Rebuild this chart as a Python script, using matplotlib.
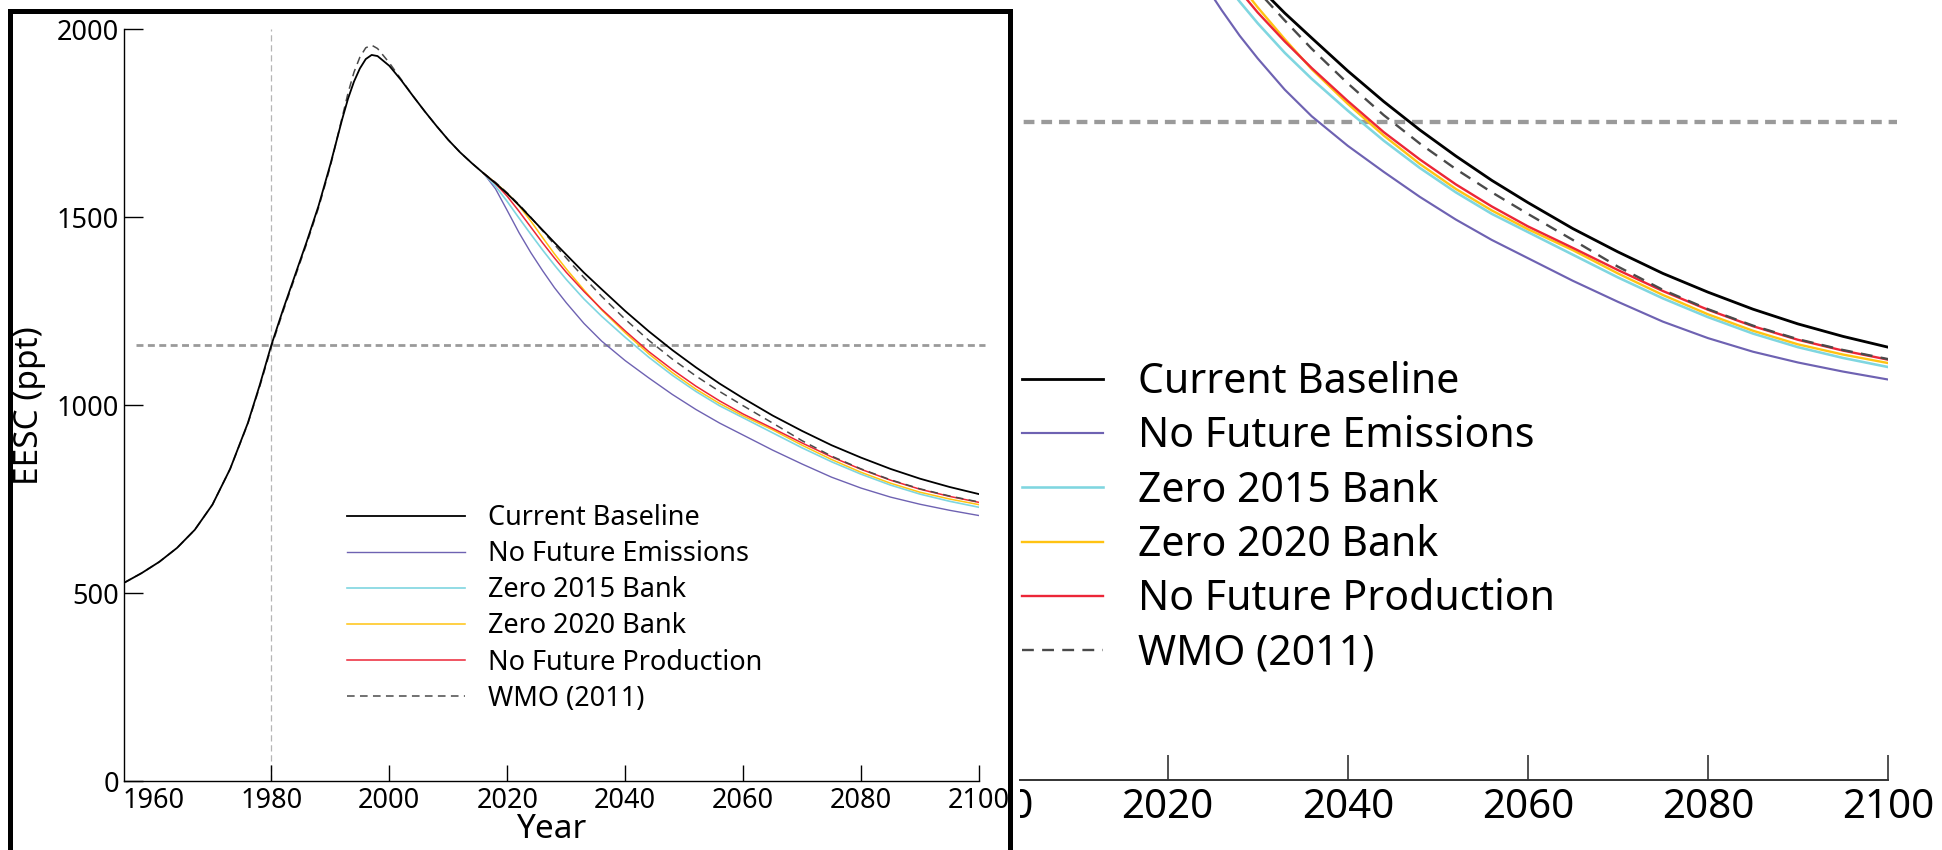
import matplotlib
matplotlib.use("Agg")
import matplotlib.pyplot as plt
import matplotlib.transforms as mtransforms
from matplotlib.lines import Line2D

plt.rcParams["font.family"] = ["Noto Sans", "DejaVu Sans"]

# --- data (EESC, ppt) ---
hist_years = [1955, 1958, 1961, 1964, 1967, 1970, 1973, 1976, 1978, 1980, 1982, 1984,
              1986, 1988, 1990, 1991, 1992, 1993, 1994, 1995, 1996, 1997, 1998, 2000,
              2002, 2004, 2006, 2008, 2010, 2012, 2014, 2016]
hist_eesc = [527, 553, 583, 620, 668, 735, 830, 952, 1052, 1160, 1255, 1345,
             1435, 1530, 1640, 1700, 1760, 1815, 1860, 1895, 1920, 1931, 1928, 1902,
             1864, 1822, 1781, 1742, 1705, 1672, 1643, 1616]

proj_years = [2016, 2018, 2020, 2022, 2024, 2026, 2028, 2030, 2033, 2036, 2040, 2044,
              2048, 2052, 2056, 2060, 2065, 2070, 2075, 2080, 2085, 2090, 2095, 2100]
baseline = [1616, 1590, 1562, 1531, 1498, 1465, 1432, 1400, 1352, 1308, 1250, 1196,
            1146, 1100, 1057, 1018, 972, 931, 893, 860, 830, 804, 782, 763]
no_emissions = [1616, 1575, 1517, 1458, 1405, 1357, 1312, 1272, 1217, 1170, 1118, 1072,
                1028, 988, 952, 920, 880, 843, 808, 779, 755, 736, 720, 706]
zero_2015 = [1616, 1582, 1541, 1497, 1454, 1412, 1372, 1334, 1282, 1236, 1180, 1127,
             1079, 1036, 998, 966, 926, 886, 849, 816, 787, 763, 744, 728]
zero_2020 = [1616, 1591, 1563, 1530, 1489, 1445, 1402, 1362, 1306, 1253, 1192, 1136,
             1086, 1042, 1004, 971, 934, 893, 855, 821, 792, 768, 750, 735]
no_production = [1616, 1589, 1555, 1515, 1473, 1431, 1391, 1353, 1302, 1255, 1197, 1142,
                 1094, 1050, 1011, 976, 938, 899, 862, 829, 800, 776, 757, 741]

wmo_years = hist_years + proj_years[1:]
wmo_eesc = [527, 553, 583, 620, 668, 735, 830, 950, 1048, 1155, 1250, 1340,
            1430, 1525, 1635, 1700, 1765, 1830, 1885, 1925, 1950, 1957, 1948, 1910,
            1866, 1822, 1781, 1742, 1705, 1672, 1643, 1616,
            1592, 1564, 1533, 1499, 1463, 1427, 1391, 1339, 1289, 1228, 1172,
            1122, 1077, 1036, 998, 952, 905, 864, 830, 801, 777, 758, 742]

threshold = 1160          # EESC level of 1980
threshold_span = [1957, 2101]
ref_year = 1980

labels = ["Current Baseline", "No Future Emissions", "Zero 2015 Bank",
          "Zero 2020 Bank", "No Future Production", "WMO (2011)"]
colors = ["black", "#6e62b2", "#7fd6e0", "#ffc312", "#ec2637", "#4a4a4a"]

W, H = 1942, 850


def rect(x0, y0, x1, y1):
    return [x0 / W, 1 - y1 / H, (x1 - x0) / W, (y1 - y0) / H]


def draw_curves(ax, s):
    thr = ax.hlines(threshold, threshold_span[0], threshold_span[1], color="#9a9a9a",
                    lw=2.0 * s, linestyles=(0, (2.5, 1.6)), clip_on=False, zorder=1)
    h_nf, = ax.plot(proj_years, no_emissions, color=colors[1], lw=1.0 * s, zorder=3)
    h_z15, = ax.plot(proj_years, zero_2015, color=colors[2], lw=1.2 * s, zorder=3)
    h_z20, = ax.plot(proj_years, zero_2020, color=colors[3], lw=1.1 * s, zorder=3)
    h_np, = ax.plot(proj_years, no_production, color=colors[4], lw=1.1 * s, zorder=3)
    h_wmo, = ax.plot(wmo_years, wmo_eesc, color=colors[5], lw=1.1 * s,
                     dashes=(5, 3.5), zorder=4)
    h_cb, = ax.plot(hist_years + proj_years[1:], hist_eesc + baseline[1:],
                    color=colors[0], lw=1.3 * s, zorder=5)
    return thr, [h_cb, h_nf, h_z15, h_z20, h_np, h_wmo]


fig = plt.figure(figsize=(W / 100, H / 100), dpi=100)

# ---- left panel: full chart ----
ax1 = fig.add_axes(rect(124, 29, 979, 781))
ax1.axvline(ref_year, color="#b5b5b5", lw=0.9, dashes=(5, 3), zorder=1)
_, handles = draw_curves(ax1, 1.0)
ax1.set_xlim(1955, 2100)
ax1.set_ylim(0, 2000)
ax1.set_xticks(range(1960, 2101, 20))
ax1.set_yticks(range(0, 2001, 500))
for side in ["top", "right"]:
    ax1.spines[side].set_visible(False)
for side in ["left", "bottom"]:
    ax1.spines[side].set_linewidth(1.0)
ax1.tick_params(axis="y", direction="in", length=13.5, width=1.0, labelsize=19.5, pad=3.5)
ax1.tick_params(axis="x", direction="in", length=11.5, width=1.0, labelsize=19.5, pad=4)
ax1.xaxis.get_major_ticks()[0].tick1line.set_visible(False)

ax1.legend(handles, labels, loc="upper left", bbox_to_anchor=(347 / W, 1 - 504 / H),
           bbox_transform=fig.transFigure, frameon=False, fontsize=19.5,
           handlelength=4.35, handletextpad=0.85, labelspacing=0.30,
           borderpad=0, borderaxespad=0)

fig.text(29 / W, 1 - 406 / H, "EESC (ppt)", rotation=90, fontsize=24,
         ha="center", va="center")
fig.text(551 / W, 1 - 829 / H, "Year", fontsize=24, ha="center", va="center")

# ---- right panel: enlarged view ----
panel_clip = mtransforms.TransformedBbox(
    mtransforms.Bbox.from_extents(1020 / W, 0, 1, 1), fig.transFigure)

ax2 = fig.add_axes(rect(1020, 0, 1888, 780))
thr2, handles2 = draw_curves(ax2, 1.55)
thr2.set_clip_path(None)
thr2.set_clip_box(panel_clip)
thr2.set_clip_on(True)
ax2.set_xlim(2003.6, 2100)
ax2.set_ylim(0, 1375)
ax2.set_xticks(range(2020, 2101, 20))
ax2.set_yticks([])
for side in ["top", "right", "left"]:
    ax2.spines[side].set_visible(False)
ax2.spines["bottom"].set_linewidth(1.4)
ax2.spines["bottom"].set_color("#333333")
ax2.tick_params(axis="x", direction="in", length=18, width=1.2, labelsize=29, pad=6,
                color="#333333")

ax2.legend(handles2, labels, loc="upper left", bbox_to_anchor=(1022 / W, 1 - 361 / H),
           bbox_transform=fig.transFigure, frameon=False, fontsize=29.5,
           handlelength=1.98, handletextpad=0.85, labelspacing=0.30,
           borderpad=0, borderaxespad=0)

# cut-off "2000" label at the left edge of the enlarged view
t = fig.text(2000, -8.3 / 780, "2000", fontsize=29, ha="center", va="top",
             transform=mtransforms.blended_transform_factory(ax2.transData, ax2.transAxes))
t.set_clip_box(panel_clip)
t.set_clip_on(True)

# black frame around the left panel
fig.add_artist(Line2D([10 / W, 10 / W, 1009.5 / W, 1009.5 / W],
                      [0, 1 - 10.5 / H, 1 - 10.5 / H, 0],
                      transform=fig.transFigure, color="black", lw=3.6,
                      solid_joinstyle="miter", zorder=10))

fig.savefig("out.png", dpi=100)
